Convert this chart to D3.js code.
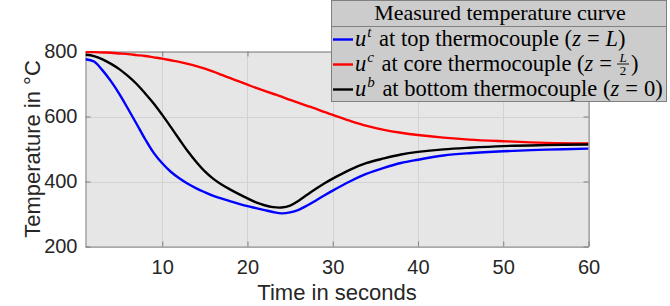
<!DOCTYPE html>
<html>
  <head>
    <meta charset="utf-8" />
    <script src="https://d3js.org/d3.v7.min.js"></script>
    <style>
      body { margin: 0; background: #ffffff; }
      svg { display: block; }
    </style>
  </head>
  <body>
    <div id="chart"></div>
    <script>
      // measured data (time in s, temperature in degC)
      var times = [1, 2, 3, 4, 5, 6, 7, 8, 9, 10, 11, 12, 13, 14, 15, 16, 17, 18, 19, 20,
        21, 22, 23, 24, 25, 26, 27, 28, 29, 30, 32, 34, 36, 38, 40, 43, 46, 50, 55, 60];
      var topTemp = [776, 769, 742, 708, 668, 623, 577, 530, 488, 456, 430, 410, 393, 379, 367, 356, 347, 339, 331, 324,
        318, 312, 306, 302, 305, 313, 326, 341, 357, 372, 400, 424, 442, 457, 467, 480, 487, 493, 498, 501];
      var coreTemp = [798, 798, 797, 796, 794, 792, 789, 786, 782, 778, 773, 768, 762, 755, 747, 738, 728, 718, 708, 698,
        688, 679, 670, 661, 651, 642, 633, 624, 614, 605, 587, 571, 559, 550, 543, 535, 529, 524, 519, 517];
      var bottomTemp = [790, 786, 776, 762, 745, 724, 700, 671, 640, 605, 568, 530, 493, 460, 431, 408, 390, 375, 361, 348,
        336, 327, 321, 320, 326, 341, 359, 377, 394, 409, 436, 457, 471, 483, 491, 499, 504, 509, 512, 514];
      var xTicks = [10, 20, 30, 40, 50, 60];
      var yTicks = [200, 400, 600, 800];

      var width = 670;
      var height = 306;
      var pLeft = 85.5, pRight = 588.5, pTop = 51.5, pBottom = 246.5;

      var svg = d3.select("#chart").append("svg")
        .attr("width", width)
        .attr("height", height);

      var x = d3.scaleLinear().domain([1, 60]).range([pLeft, pRight]);
      var y = d3.scaleLinear().domain([200, 800]).range([pBottom, pTop]);

      // plot background
      svg.append("rect")
        .attr("x", pLeft).attr("y", pTop)
        .attr("width", pRight - pLeft).attr("height", pBottom - pTop)
        .attr("fill", "#e6e6e6");

      // grid
      var grid = svg.append("g").attr("stroke", "#d2d2d2").attr("stroke-width", 1);
      xTicks.forEach(function (t) {
        grid.append("line")
          .attr("x1", Math.round(x(t)) + 0.5).attr("x2", Math.round(x(t)) + 0.5)
          .attr("y1", pTop).attr("y2", pBottom);
      });
      yTicks.forEach(function (t) {
        grid.append("line")
          .attr("x1", pLeft).attr("x2", pRight)
          .attr("y1", Math.round(y(t)) + 0.5).attr("y2", Math.round(y(t)) + 0.5);
      });

      // axes (MATLAB style box, ticks inside)
      var xAxis = d3.axisBottom(x).tickValues(xTicks).tickSizeInner(-5).tickSizeOuter(0).tickPadding(13);
      var yAxis = d3.axisLeft(y).tickValues(yTicks).tickSizeInner(-5).tickSizeOuter(0).tickPadding(8);
      var xTop = d3.axisTop(x).tickValues(xTicks).tickSizeInner(-5).tickSizeOuter(0).tickFormat("");
      var yRight = d3.axisRight(y).tickValues(yTicks).tickSizeInner(-5).tickSizeOuter(0).tickFormat("");

      function styleAxis(g) {
        g.select(".domain").attr("stroke", "#808080");
        g.selectAll(".tick line").attr("stroke", "#808080");
        g.selectAll(".tick text")
          .attr("fill", "#262626")
          .style("font-family", "'Liberation Sans', Arial, sans-serif")
          .style("font-size", "20px");
      }

      svg.append("g").attr("transform", "translate(0," + pBottom + ")").call(xAxis).call(styleAxis);
      svg.append("g").attr("transform", "translate(" + pLeft + ",0)").call(yAxis).call(styleAxis);
      svg.append("g").attr("transform", "translate(0," + pTop + ")").call(xTop).call(styleAxis);
      svg.append("g").attr("transform", "translate(" + pRight + ",0)").call(yRight).call(styleAxis);

      // curves
      var series = [
        { vals: topTemp, color: "#0000ff" },
        { vals: coreTemp, color: "#ff0000" },
        { vals: bottomTemp, color: "#000000" }
      ];
      var line = d3.line()
        .x(function (d) { return x(d[0]); })
        .y(function (d) { return y(d[1]); })
        .curve(d3.curveCatmullRom.alpha(0.5));

      var clip = svg.append("clipPath").attr("id", "plotclip");
      clip.append("rect").attr("x", pLeft).attr("y", pTop - 2)
        .attr("width", pRight - pLeft).attr("height", pBottom - pTop + 4);

      series.forEach(function (s) {
        svg.append("path")
          .datum(times.map(function (t, i) { return [t, s.vals[i]]; }))
          .attr("clip-path", "url(#plotclip)")
          .attr("fill", "none")
          .attr("stroke", s.color)
          .attr("stroke-width", 2.4)
          .attr("stroke-linejoin", "round")
          .attr("d", line);
      });

      // axis titles
      svg.append("text")
        .attr("x", (pLeft + pRight) / 2)
        .attr("y", 300)
        .attr("text-anchor", "middle")
        .attr("fill", "#262626")
        .style("font-family", "'Liberation Sans', Arial, sans-serif")
        .style("font-size", "22px")
        .text("Time in seconds");

      svg.append("text")
        .attr("transform", "translate(40," + (pTop + pBottom) / 2 + ") rotate(-90)")
        .attr("text-anchor", "middle")
        .attr("fill", "#262626")
        .style("font-family", "'Liberation Sans', Arial, sans-serif")
        .style("font-size", "22px")
        .text("Temperature in \u00B0C");

      // legend
      var serif = "'Liberation Serif', 'Times New Roman', serif";
      var lg = svg.append("g");
      lg.append("rect")
        .attr("x", 331.5).attr("y", 0.5)
        .attr("width", 335).attr("height", 101)
        .attr("fill", "#cccccc")
        .attr("stroke", "#808080");
      lg.append("line")
        .attr("x1", 331.5).attr("x2", 666.5)
        .attr("y1", 26.5).attr("y2", 26.5)
        .attr("stroke", "#808080");
      lg.append("text")
        .attr("x", 500).attr("y", 20)
        .attr("text-anchor", "middle")
        .attr("fill", "#000")
        .style("font-family", serif)
        .style("font-size", "22px")
        .text("Measured temperature curve");

      var entries = [
        { sup: "t", place: "top", rhs: "L", color: "#0000ff" },
        { sup: "c", place: "core", rhs: "frac", color: "#ff0000" },
        { sup: "b", place: "bottom", rhs: "0", color: "#000000" }
      ];

      entries.forEach(function (e, i) {
        var base = 46 + i * 25;
        lg.append("line")
          .attr("x1", 333).attr("x2", 353)
          .attr("y1", base - 6.5).attr("y2", base - 6.5)
          .attr("stroke", e.color).attr("stroke-width", 2.4);

        var t = lg.append("text")
          .attr("x", 355).attr("y", base)
          .attr("fill", "#000")
          .style("font-family", serif)
          .style("font-size", "22.5px");
        t.append("tspan").style("font-style", "italic").text("u");
        t.append("tspan").style("font-style", "italic").style("font-size", "15px")
          .attr("dx", 1).attr("dy", -9).text(e.sup);
        t.append("tspan").attr("dy", 9).attr("dx", 2).text("\u00A0at " + e.place + " thermocouple (");
        t.append("tspan").style("font-style", "italic").text("z");
        t.append("tspan").attr("dx", 6).text("=");

        if (e.rhs === "frac") {
          var w = t.node().getComputedTextLength();
          var fx = 355 + w + 2 + 6 + 6;
          lg.append("text")
            .attr("x", fx + 6).attr("y", base - 9)
            .attr("text-anchor", "middle")
            .style("font-family", serif).style("font-style", "italic")
            .style("font-size", "13px").text("L");
          lg.append("line")
            .attr("x1", fx).attr("x2", fx + 12)
            .attr("y1", base - 7).attr("y2", base - 7)
            .attr("stroke", "#000").attr("stroke-width", 0.9);
          lg.append("text")
            .attr("x", fx + 6).attr("y", base + 4)
            .attr("text-anchor", "middle")
            .style("font-family", serif)
            .style("font-size", "13px").text("2");
          lg.append("text")
            .attr("x", fx + 14).attr("y", base)
            .style("font-family", serif)
            .style("font-size", "22.5px").text(")");
        } else {
          t.append("tspan").attr("dx", 6)
            .style("font-style", e.rhs === "L" ? "italic" : "normal").text(e.rhs);
          t.append("tspan").text(")");
        }
      });
    </script>
  </body>
</html>
